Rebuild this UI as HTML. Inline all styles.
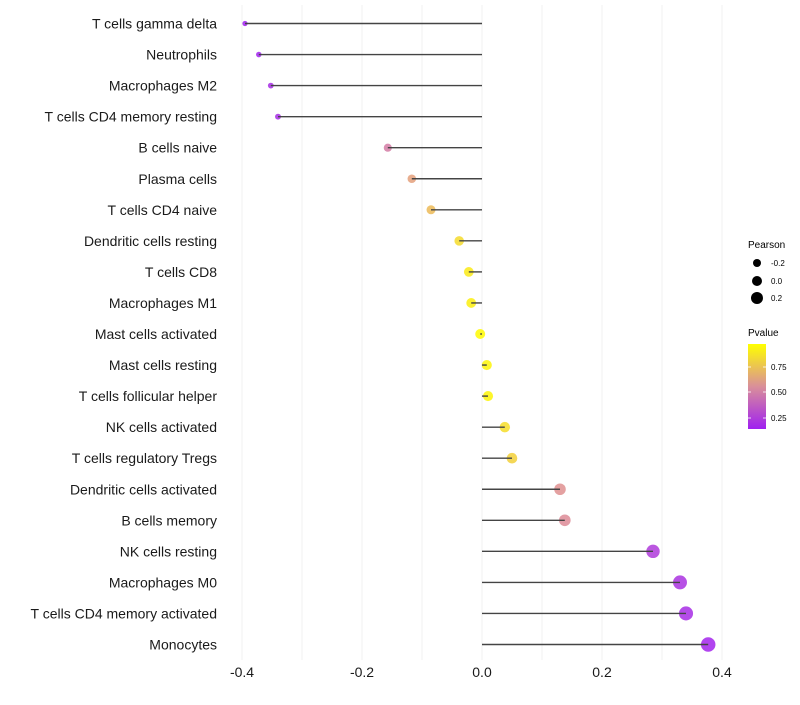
<!DOCTYPE html>
<html><head><meta charset="utf-8"><style>
body{margin:0;background:#fff}
text{font-family:"Liberation Sans",Arial,sans-serif}
</style></head><body>
<svg id="chart" width="800" height="700">
<g id="grid"></g><g id="pts"></g><g id="marks"></g><g id="ylab"></g><g id="xlab"></g>
<g id="legend">
<text x="748" y="248" font-size="10" fill="#000">Pearson</text>
<circle cx="757" cy="263" r="4" fill="#000"/><text x="771" y="266" font-size="8">-0.2</text>
<circle cx="757" cy="281" r="5" fill="#000"/><text x="771" y="284" font-size="8">0.0</text>
<circle cx="757" cy="298" r="6" fill="#000"/><text x="771" y="301" font-size="8">0.2</text>
<text x="748" y="336" font-size="10">Pvalue</text>
<defs><linearGradient id="pg" x1="0" y1="1" x2="0" y2="0">
<stop offset="0" stop-color="#a020f0"/><stop offset="0.5" stop-color="#d98f9a"/><stop offset="1" stop-color="#ffff00"/></linearGradient></defs>
<rect x="748" y="344" width="18" height="85" fill="url(#pg)"/>
<g stroke="#fff" stroke-width="0.8"><line x1="748" x2="751" y1="367" y2="367"/><line x1="763" x2="766" y1="367" y2="367"/><line x1="748" x2="751" y1="392" y2="392"/><line x1="763" x2="766" y1="392" y2="392"/><line x1="748" x2="751" y1="418" y2="418"/><line x1="763" x2="766" y1="418" y2="418"/></g>
<text x="771" y="370" font-size="8">0.75</text><text x="771" y="395" font-size="8">0.50</text><text x="771" y="421" font-size="8">0.25</text>
</g>
</svg>
<script>
const cats=["T cells gamma delta","Neutrophils","Macrophages M2","T cells CD4 memory resting","B cells naive","Plasma cells","T cells CD4 naive","Dendritic cells resting","T cells CD8","Macrophages M1","Mast cells activated","Mast cells resting","T cells follicular helper","NK cells activated","T cells regulatory  Tregs ","Dendritic cells activated","B cells memory","NK cells resting","Macrophages M0","T cells CD4 memory activated","Monocytes"];
const pearson=[-0.395,-0.372,-0.352,-0.34,-0.157,-0.117,-0.085,-0.038,-0.022,-0.018,-0.003,0.008,0.01,0.038,0.05,0.13,0.138,0.285,0.33,0.34,0.377];
const pvals=[0.15,0.16,0.2,0.2,0.5,0.64,0.74,0.86,0.92,0.94,0.98,0.96,0.96,0.87,0.82,0.58,0.56,0.25,0.22,0.2,0.17];
const xticks=[-0.4,-0.2,0,0.2,0.4];
const NS="http://www.w3.org/2000/svg";
const X=v=>482+v*600, Y=i=>23.5+i*31.05;
function col(p){const t=Math.max(0,Math.min(1,(p-0.15)/0.83));
 const a=[160,32,240],m=[222,140,150],b=[255,250,0];let c;
 if(t<0.5){const u=t*2;c=a.map((v,k)=>v+(m[k]-v)*u)}else{const u=(t-0.5)*2;c=m.map((v,k)=>v+(b[k]-v)*u)}
 return `rgb(${c.map(Math.round).join(',')})`;}
function mk(t,at,par){const e=document.createElementNS(NS,t);for(const k in at)e.setAttribute(k,at[k]);document.getElementById(par).appendChild(e);return e;}
for(let v=-0.4;v<=0.41;v+=0.1){const g=mk('line',{x1:X(v),x2:X(v),y1:5,y2:660,stroke:'#f0f0f0','stroke-width':1},'grid');

}
cats.forEach((c,i)=>{
 const r=Math.max(1.5,5+6*pearson[i]);
 const p=mk('circle',{cx:X(pearson[i]),cy:Y(i),r:r,fill:col(pvals[i]),'fill-opacity':0.85},'pts');
 
 
 const l=mk('line',{x1:X(0),x2:X(pearson[i]),y1:Y(i),y2:Y(i),stroke:'#444','stroke-width':1.4},'marks');
 
 
 const t=mk('text',{x:217,y:Y(i)+5,'text-anchor':'end','font-size':14,fill:'#1a1a1a'},'ylab');t.textContent=c;
 
 
});
xticks.forEach(v=>{const t=mk('text',{x:X(v),y:677,'text-anchor':'middle','font-size':14,fill:'#1a1a1a'},'xlab');t.textContent=v===0?'0.0':v.toFixed(1);
 
 });
</script>
</body></html>
